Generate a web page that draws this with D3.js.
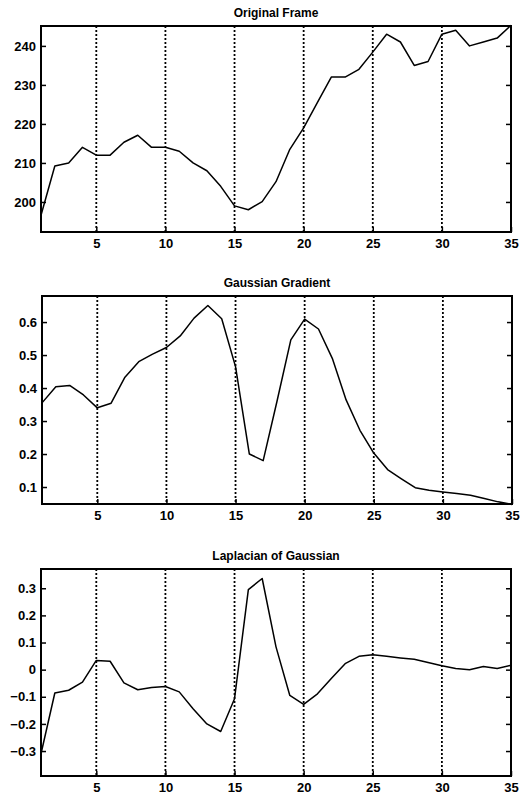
<!DOCTYPE html>
<html>
<head>
<meta charset="utf-8">
<script src="https://cdn.jsdelivr.net/npm/d3@7"></script>
<style>
  body { margin: 0; background: #fff; }
  svg { display: block; font-family: "Liberation Sans", Arial, sans-serif; }
  .tick text { font-weight: bold; font-size: 13px; fill: #000; }
  .title { font-weight: bold; font-size: 12px; }
</style>
</head>
<body>
<svg id="chart" width="521" height="797"></svg>
<script>
// frame index along x
var frames = d3.range(1, 36);

// values
var originalFrame = [196.6, 209.2, 210, 214, 212, 212, 215.3, 217.1, 214, 214,
  213, 210, 208, 204, 199, 198, 200.1, 205.2, 213.5, 219,
  225.5, 232, 232, 234, 238.4, 243, 241, 235, 236, 243,
  244, 240, 241, 242, 245.3];
var gaussGradient = [0.355, 0.404, 0.408, 0.379, 0.340, 0.354, 0.433, 0.480, 0.503, 0.523,
  0.558, 0.612, 0.650, 0.610, 0.465, 0.200, 0.180, 0.360, 0.546, 0.609,
  0.579, 0.490, 0.364, 0.272, 0.203, 0.153, 0.125, 0.098, 0.090, 0.085,
  0.080, 0.075, 0.065, 0.055, 0.047];
var laplacian = [-0.31, -0.086, -0.076, -0.046, 0.034, 0.031, -0.049, -0.074, -0.066, -0.062,
  -0.082, -0.144, -0.200, -0.228, -0.107, 0.295, 0.336, 0.084, -0.095, -0.128,
  -0.089, -0.033, 0.022, 0.049, 0.055, 0.049, 0.043, 0.038, 0.026, 0.014,
  0.004, 0.000, 0.012, 0.004, 0.016];

var titles = ["Original Frame", "Gaussian Gradient", "Laplacian of Gaussian"];
var xTicks = [5, 10, 15, 20, 25, 30, 35];
var gridX = [5, 10, 15, 20, 25, 30];
var yTicks1 = [200, 210, 220, 230, 240];
var yTicks2 = [0.1, 0.2, 0.3, 0.4, 0.5, 0.6];
var yTicks3 = [-0.3, -0.2, -0.1, 0, 0.1, 0.2, 0.3];
var yDomain1 = [192.3, 245.1];
var yDomain2 = [0.0485, 0.679];
var yDomain3 = [-0.392, 0.371];

var svg = d3.select("#chart");

var panels = [
  { title: titles[0], values: originalFrame, ticks: yTicks1, domain: yDomain1,
    left: 41, right: 511, top: 26, bottom: 232, fmt: d3.format("d") },
  { title: titles[1], values: gaussGradient, ticks: yTicks2, domain: yDomain2,
    left: 42, right: 512, top: 296, bottom: 504, fmt: d3.format(".1f") },
  { title: titles[2], values: laplacian, ticks: yTicks3, domain: yDomain3,
    left: 41, right: 511, top: 569, bottom: 776,
    fmt: function(d) { return d === 0 ? "0" : d3.format(".1f")(d); } }
];

panels.forEach(function(p) {
  var x = d3.scaleLinear().domain([1, 35]).range([p.left, p.right]);
  var y = d3.scaleLinear().domain(p.domain).range([p.bottom, p.top]);
  var g = svg.append("g");

  g.append("text")
    .attr("class", "title")
    .attr("x", (p.left + p.right) / 2)
    .attr("y", p.top - 9)
    .attr("text-anchor", "middle")
    .text(p.title);

  // dotted grid
  g.selectAll(".grid")
    .data(gridX)
    .enter().append("line")
    .attr("x1", function(d) { return x(d); })
    .attr("x2", function(d) { return x(d); })
    .attr("y1", p.top)
    .attr("y2", p.bottom)
    .attr("stroke", "#000")
    .attr("stroke-width", 1.8)
    .attr("stroke-dasharray", "2,2");

  var left = g.append("g")
    .attr("transform", "translate(" + p.left + ",0)")
    .call(d3.axisLeft(y).tickValues(p.ticks).tickFormat(p.fmt)
      .tickSize(-5).tickPadding(5));
  var right = g.append("g")
    .attr("transform", "translate(" + p.right + ",0)")
    .call(d3.axisRight(y).tickValues(p.ticks).tickFormat("")
      .tickSize(-5));
  var bottom = g.append("g")
    .attr("transform", "translate(0," + p.bottom + ")")
    .call(d3.axisBottom(x).tickValues(xTicks).tickFormat(d3.format("d"))
      .tickSize(-5).tickPadding(6));
  [left, right, bottom].forEach(function(a) {
    a.select(".domain").remove();
    a.selectAll("line").attr("stroke", "#000").attr("stroke-width", 1.5);
  });
  bottom.selectAll("text").attr("dy", "0.75em");

  g.append("path")
    .datum(p.values)
    .attr("fill", "none")
    .attr("stroke", "#000")
    .attr("stroke-width", 1.5)
    .attr("stroke-linejoin", "round")
    .attr("d", d3.line()
      .x(function(d, i) { return x(frames[i]); })
      .y(function(d) { return y(d); }));

  g.append("rect")
    .attr("x", p.left)
    .attr("y", p.top)
    .attr("width", p.right - p.left)
    .attr("height", p.bottom - p.top)
    .attr("fill", "none")
    .attr("stroke", "#000")
    .attr("stroke-width", 2);
});
</script>
</body>
</html>
